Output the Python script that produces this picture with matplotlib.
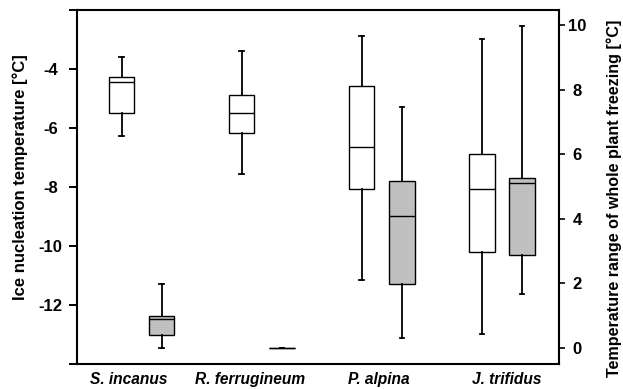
import matplotlib
matplotlib.use("Agg")
import matplotlib.pyplot as plt

plt.rcParams['font.family'] = ['Liberation Sans', 'DejaVu Sans']
plt.rcParams['font.weight'] = 'bold'

species = ['S. incanus', 'R. ferrugineum', 'P. alpina', 'J. trifidus']

# ice nucleation temperature (left axis, white boxes)
ice_whislo = [-6.27, -7.56, -11.15, -12.98]
ice_q1 = [-5.49, -6.17, -8.07, -10.2]
ice_med = [-4.45, -5.49, -6.66, -8.07]
ice_q3 = [-4.27, -4.88, -4.58, -6.88]
ice_whishi = [-3.59, -3.39, -2.88, -2.98]

# temperature range of whole plant freezing (right axis, grey boxes)
rng_whislo = [0.0, 0.0, 0.31, 1.67]
rng_q1 = [0.40, 0.0, 1.98, 2.88]
rng_med = [0.90, 0.0, 4.09, 5.10]
rng_q3 = [0.99, 0.0, 5.17, 5.26]
rng_whishi = [1.98, 0.0, 7.46, 9.97]


def stats(lo, q1, med, q3, hi):
    return [dict(whislo=a, q1=b, med=c, q3=d, whishi=e, fliers=[])
            for a, b, c, d, e in zip(lo, q1, med, q3, hi)]


fig = plt.figure(figsize=(6.23, 3.89), dpi=100)
ax = fig.add_axes([0.1236, 0.0643, 0.7737, 0.91])
ax2 = ax.twinx()

groups = list(range(1, len(species) + 1))
off = 0.167
w = 0.21
line = dict(color='black', linewidth=1.0)

ax.bxp(stats(ice_whislo, ice_q1, ice_med, ice_q3, ice_whishi),
       positions=[g - off for g in groups], widths=w, patch_artist=True,
       showfliers=False, capwidths=0.04,
       boxprops=dict(facecolor='white', edgecolor='black', linewidth=1.0),
       medianprops=line, whiskerprops=dict(color='black', linewidth=1.3),
       capprops=dict(color='black', linewidth=1.3))

ax2.bxp(stats(rng_whislo, rng_q1, rng_med, rng_q3, rng_whishi),
        positions=[g + off for g in groups], widths=w, patch_artist=True,
        showfliers=False, capwidths=0.04,
        boxprops=dict(facecolor='#c0c0c0', edgecolor='black', linewidth=1.0),
        medianprops=line, whiskerprops=dict(color='black', linewidth=1.3),
        capprops=dict(color='black', linewidth=1.3))

ax.set_xlim(0.46, 4.475)
ax.set_ylim(-14, -2)
ax2.set_ylim(-0.5, 10.47)

# species names sit a little off the group centres in the original
ax.set_xticks([0.89, 1.9, 2.975, 4.04])
ax.set_xticklabels(species, fontsize=11.2, fontstyle='italic', fontweight='bold')
ax.tick_params(axis='x', length=0, pad=6)

ax.set_yticks(range(-14, -1, 2))
ax.set_yticklabels(['' if v in (-14, -2) else str(v) for v in range(-14, -1, 2)])
ax.tick_params(axis='y', length=6, width=1.4, labelsize=12, pad=13)
for t in ax.get_yticklabels():
    t.set_horizontalalignment('center')

ax2.set_yticks(range(0, 11, 2))
ax2.tick_params(axis='y', length=4.5, width=1.2, labelsize=12, pad=8.5)
for t in ax2.get_yticklabels():
    t.set_horizontalalignment('center')

ax2.spines['top'].set_visible(False)
ax.spines['top'].set_linewidth(1.5)
ax.spines['left'].set_linewidth(1.5)
ax.spines['bottom'].set_linewidth(1.5)
ax.spines['right'].set_visible(False)
ax2.spines['left'].set_visible(False)
ax2.spines['bottom'].set_visible(False)
ax2.spines['right'].set_linewidth(1.5)

ax.set_ylabel('Ice nucleation temperature [°C]', fontsize=12, fontweight='bold',
              va='center')
ax.yaxis.set_label_coords(-0.118, 0.527)
ax2.set_ylabel('Temperature range of whole plant freezing [°C]', fontsize=11.6,
               fontweight='bold', va='center')
ax2.yaxis.set_label_coords(1.114, 0.469)

fig.savefig('out.png', dpi=100)
